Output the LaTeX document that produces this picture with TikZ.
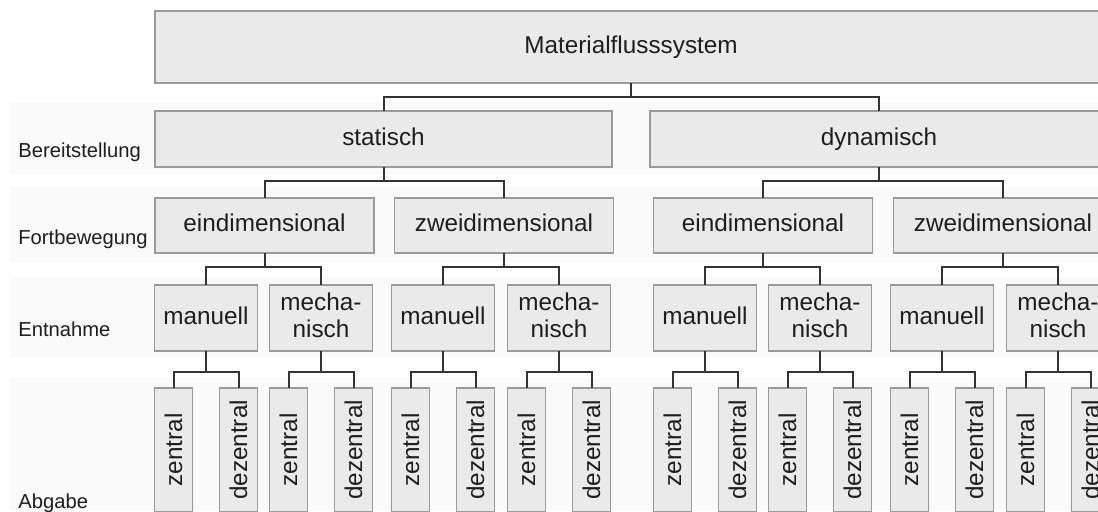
\documentclass[tikz,border=0pt]{standalone}
\usepackage{fontspec}
\setmainfont{Liberation Sans}
\usetikzlibrary{positioning}

\definecolor{boxfill}{HTML}{EAEAEA}
\definecolor{boxline}{HTML}{9A9A9A}
\definecolor{linkcol}{HTML}{333333}
\definecolor{txtcol}{HTML}{1E1E1E}
\definecolor{bandcol}{HTML}{FAFAFA}

\tikzset{
    tbox/.style={draw=boxline, fill=boxfill, line width=0.6pt, inner sep=0pt,
        outer sep=0pt, text=txtcol, font=\fontsize{12.15pt}{13.5pt}\selectfont},
    box/.style={tbox, text height=8.75pt, text depth=2.55pt},
    mechbox/.style={tbox, align=center, text depth=2.55pt,
        minimum width=51.5pt, minimum height=33pt},
    manbox/.style={box, minimum width=51.5pt, minimum height=33pt},
    dimbox/.style={box, minimum width=109.5pt, minimum height=27.5pt},
    leaf/.style={tbox, rotate=90, anchor=east, minimum width=62pt, minimum height=19pt},
    link/.style={draw=linkcol, line width=1pt},
    rowlabel/.style={anchor=base west, inner sep=0pt, text=txtcol,
        font=\fontsize{10.1pt}{12pt}\selectfont}
}

\begin{document}
\begin{tikzpicture}[x=0.5pt, y=-0.5pt]
    \useasboundingbox (0,0) rectangle (1098,511);
    \clip (0,0) rectangle (1098,511);

    % row bands
    \fill[bandcol] (10,102) rectangle (1098,175);
    \fill[bandcol] (10,187) rectangle (1098,262);
    \fill[bandcol] (10,277) rectangle (1098,357);
    \fill[bandcol] (10,378) rectangle (1098,511);

    \node[rowlabel] (bereit) at (18,157) {Bereitstellung};
    \node[rowlabel] (fortb)  at (18,244) {Fortbewegung};
    \node[rowlabel] (entn)   at (18,336) {Entnahme};
    \node[rowlabel] (abg)    at (18,508) {Abgabe};

    \node[box, minimum width=476pt, minimum height=36pt] (sys) at (631,47) {Materialflusssystem};
    \node[box, minimum width=228.5pt, minimum height=28pt] (stat) at (383.5,139) {statisch};
    \node[box, minimum width=229pt, minimum height=28pt] (dyn) at (879,139) {dynamisch};

    \node[dimbox] (stat1) at (264.5,225.5) {eindimensional};
    \node[dimbox] (stat2) at (504,225.5)   {zweidimensional};
    \node[dimbox] (dyn1)  at (763,225.5)   {eindimensional};
    \node[dimbox] (dyn2)  at (1003,225.5)  {zweidimensional};

    \node[manbox]  (stat1man)  at (206,318)  {manuell};
    \node[mechbox] (stat1mech) at (321,318)  {mecha-\\nisch};
    \node[manbox]  (stat2man)  at (443,318)  {manuell};
    \node[mechbox] (stat2mech) at (559,318)  {mecha-\\nisch};
    \node[manbox]  (dyn1man)   at (705,318)  {manuell};
    \node[mechbox] (dyn1mech)  at (820,318)  {mecha-\\nisch};
    \node[manbox]  (dyn2man)   at (942,318)  {manuell};
    \node[mechbox] (dyn2mech)  at (1058,318) {mecha-\\nisch};

    \draw[link] (sys.south) -- ++(0,14) -| (stat.north);
    \draw[link] (sys.south) -- ++(0,14) -| (dyn.north);
    \foreach \p/\c in {stat/stat1, stat/stat2, dyn/dyn1, dyn/dyn2}
        \draw[link] (\p.south) -- ++(0,14) -| (\c.north);
    \foreach \p in {stat1, stat2, dyn1, dyn2} {
        \draw[link] (\p.south) -- ++(0,14) -| (\p man.north);
        \draw[link] (\p.south) -- ++(0,14) -| (\p mech.north);
    }

    % zentral / dezentral under every Entnahme box
    \foreach \p in {stat1man, stat1mech, stat2man, stat2mech, dyn1man, dyn1mech, dyn2man, dyn2mech} {
        \node[leaf] (\p z) at ([xshift=-16.25pt, yshift=-18.5pt]\p.south) {zentral};
        \node[leaf] (\p d) at ([xshift=16.25pt, yshift=-18.5pt]\p.south) {dezentral};
        \draw[link] (\p.south) -- ++(0,21) -| (\p z.east);
        \draw[link] (\p.south) -- ++(0,21) -| (\p d.east);
    }
\end{tikzpicture}
\end{document}
